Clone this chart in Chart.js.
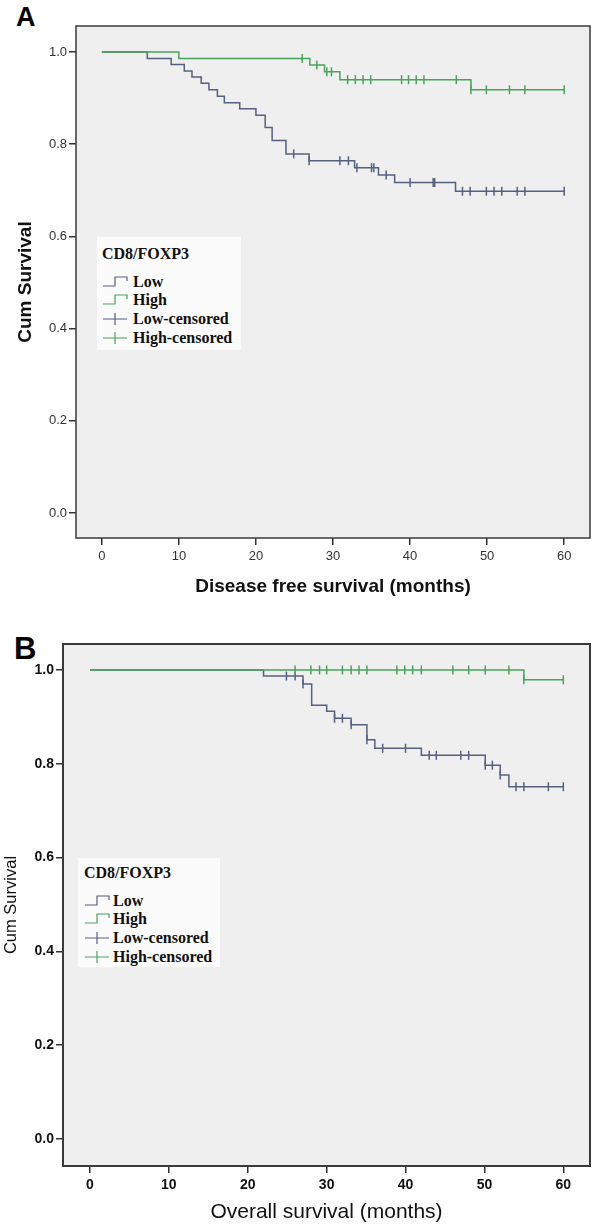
<!DOCTYPE html>
<html>
<head>
<meta charset="utf-8">
<title>CD8/FOXP3 survival</title>
<script src="https://cdn.jsdelivr.net/npm/chart.js@4.4.1/dist/chart.umd.min.js"></script>
<style>
    body { margin: 0; background: #fff; width: 596px; height: 1225px; position: relative; overflow: hidden;
           font-family: 'Liberation Sans', Arial, sans-serif; }
    .panel { position: absolute; left: 0; width: 596px; }
    #panelA { top: 0; height: 600px; }
    #panelB { top: 600px; height: 625px; }
    .letter { position: absolute; font-weight: bold; line-height: 1; color: #000; }
    .legend { position: absolute; background: #fbfbfb; color: #111;
              font-family: 'Liberation Serif', 'Times New Roman', serif; font-weight: bold; font-size: 16px; }
    .legend .row { position: absolute; height: 18px; line-height: 18px; white-space: nowrap; }
    .legend svg { position: absolute; }
</style>
</head>
<body>
<div class="letter" style="left:16px; top:4px; font-size:27px;">A</div>
<div class="letter" style="left:14px; top:633px; font-size:31px;">B</div>

<div class="panel" id="panelA"><canvas id="chartA"></canvas></div>
<div class="panel" id="panelB"><canvas id="chartB"></canvas></div>

<div class="legend" id="legendA" style="left:97px; top:237px; width:144px; height:113px;"></div>
<div class="legend" id="legendB" style="left:78px; top:858px; width:142px; height:109px;"></div>

<script>
// Axes
var xTicks = [0, 10, 20, 30, 40, 50, 60];
var yTicks = [0.0, 0.2, 0.4, 0.6, 0.8, 1.0];
var legendTitle = 'CD8/FOXP3';
var legendLabels = ['Low', 'High', 'Low-censored', 'High-censored'];

// Panel A - disease free survival (event times / survival after the step)
var lowTimesA = [0, 5.9, 9.0, 10.7, 11.7, 12.9, 13.9, 15.0, 15.9, 17.9, 20.0, 21.2, 22.1, 23.9, 26.9, 32.8, 35.9, 38.0, 45.9, 60];
var lowSurvA = [1, 0.986, 0.973, 0.959, 0.946, 0.932, 0.918, 0.904, 0.890, 0.877, 0.863, 0.836, 0.808, 0.779, 0.764, 0.749, 0.733, 0.717, 0.698, 0.698];
var lowCensorA = [24.9, 26.9, 30.9, 32.0, 33.1, 35.0, 35.3, 36.9, 40.0, 43.0, 43.2, 46.8, 47.8, 49.9, 50.9, 51.9, 53.9, 54.9, 60];
var highTimesA = [0, 10.0, 27.0, 28.9, 30.9, 47.9, 60];
var highSurvA = [1, 0.986, 0.972, 0.957, 0.940, 0.918, 0.918];
var highCensorA = [26.0, 27.9, 29.2, 29.8, 31.9, 32.9, 33.9, 34.9, 38.9, 39.8, 40.8, 41.8, 46.0, 47.9, 49.9, 52.9, 54.9, 60];

// Panel B - overall survival
var lowTimesB = [0, 22.0, 27.0, 28.1, 30.0, 31.0, 33.1, 35.1, 36.1, 42.0, 50.1, 52.0, 53.1, 60];
var lowSurvB = [1, 0.987, 0.970, 0.925, 0.912, 0.897, 0.883, 0.851, 0.833, 0.818, 0.797, 0.776, 0.751, 0.751];
var lowCensorB = [24.9, 26.0, 27.0, 31.0, 32.0, 33.1, 35.1, 37.1, 40.0, 43.0, 43.9, 47.0, 48.0, 50.1, 51.0, 52.0, 54.0, 55.0, 58.1, 60];
var highTimesB = [0, 55.0, 60];
var highSurvB = [1, 0.979, 0.979];
var highCensorB = [26.0, 28.0, 29.1, 30.0, 32.0, 33.1, 34.1, 35.1, 38.9, 39.9, 40.9, 42.0, 46.0, 48.0, 50.1, 53.1, 55.0, 60];

var lowColor = '#55617f';
var highColor = '#4aa35c';

// valeur de survie a un temps donne (fonction en escalier)
function survAt(times, surv, t) {
    var v = surv[0];
    for (var i = 0; i < times.length; i++) {
        if (times[i] <= t) v = surv[i];
    }
    return v;
}

function curve(times, surv) {
    return times.map(function (t, i) { return { x: t, y: surv[i] }; });
}

function censored(times, surv, cens) {
    return cens.map(function (t) { return { x: t, y: survAt(times, surv, t) }; });
}

// fond gris + cadre autour de la zone du graphique
var framePlugin = {
    id: 'frame',
    beforeDraw: function (chart) {
        var a = chart.chartArea, ctx = chart.ctx;
        ctx.save();
        ctx.fillStyle = '#efefef';
        ctx.fillRect(a.left, a.top, a.right - a.left, a.bottom - a.top);
        ctx.restore();
    },
    afterDatasetsDraw: function (chart, args, opts) {
        var a = chart.chartArea, ctx = chart.ctx;
        ctx.save();
        ctx.strokeStyle = '#3a3a3a';
        ctx.lineWidth = opts.width || 1.5;
        ctx.strokeRect(a.left, a.top, a.right - a.left, a.bottom - a.top);
        ctx.restore();
    }
};

function lineSet(data, color) {
    return { type: 'scatter', data: data, showLine: true, stepped: true, borderColor: color,
             borderWidth: 1.5, pointRadius: 0, fill: false };
}

function censorSet(data, color) {
    return { type: 'scatter', data: data, showLine: false, pointStyle: 'line', rotation: 90,
             pointRadius: 4.5, borderColor: color, backgroundColor: color, borderWidth: 1.5 };
}

function makeChart(id, p) {
    var ctx = document.getElementById(id);
    return new Chart(ctx, {
        type: 'scatter',
        data: {
            datasets: [
                lineSet(curve(p.highTimes, p.highSurv), highColor),
                censorSet(censored(p.highTimes, p.highSurv, p.highCensor), highColor),
                lineSet(curve(p.lowTimes, p.lowSurv), lowColor),
                censorSet(censored(p.lowTimes, p.lowSurv, p.lowCensor), lowColor)
            ]
        },
        options: {
            responsive: true,
            maintainAspectRatio: false,
            animation: false,
            events: [],
            layout: { padding: p.padding },
            plugins: { legend: { display: false }, tooltip: { enabled: false }, frame: { width: p.frameWidth } },
            scales: {
                x: {
                    type: 'linear', min: p.xMin, max: p.xMax,
                    afterBuildTicks: function (s) { s.ticks = xTicks.map(function (v) { return { value: v }; }); },
                    afterFit: function (s) { s.height = p.xHeight; },
                    grid: { drawOnChartArea: false, drawTicks: true, tickLength: 7, color: '#333', lineWidth: 1.5 },
                    border: { display: false },
                    ticks: { padding: p.xTickPad, color: p.tickColor, font: p.tickFont,
                             callback: function (v) { return String(v); } },
                    title: { display: true, text: p.xTitle, color: '#111', font: p.xTitleFont,
                             padding: { top: 0, bottom: p.xTitlePad } }
                },
                y: {
                    type: 'linear', min: p.yMin, max: p.yMax,
                    afterBuildTicks: function (s) { s.ticks = yTicks.map(function (v) { return { value: v }; }); },
                    afterFit: function (s) { s.width = p.yWidth; },
                    grid: { drawOnChartArea: false, drawTicks: true, tickLength: 7, color: '#333', lineWidth: 1.5 },
                    border: { display: false },
                    ticks: { padding: 2, color: p.tickColor, font: p.tickFont,
                             callback: function (v) { return v.toFixed(1); } },
                    title: { display: true, text: 'Cum Survival', color: '#111', font: p.yTitleFont,
                             padding: { top: p.yTitlePad, bottom: 0 } }
                }
            }
        },
        plugins: [framePlugin]
    });
}

// legende en HTML (symboles en SVG)
function buildLegend(id, colors, offsets, symX, textX) {
    var box = document.getElementById(id);
    var html = '<div class="row" style="left:' + (symX - 1) + 'px; top:' + (offsets[0] - 9) + 'px;">' + legendTitle + '</div>';
    for (var i = 0; i < legendLabels.length; i++) {
        var top = offsets[i + 1] - 9;
        var c = colors[i];
        var path = i < 2 ? 'M0,13 H12 V4 H24 V8' : 'M0,9 H24 M12,3 V15';
        html += '<svg width="26" height="18" style="left:' + symX + 'px; top:' + top + 'px;">' +
                '<path d="' + path + '" fill="none" stroke="' + c + '" stroke-width="1.2"/></svg>';
        html += '<div class="row" style="left:' + textX + 'px; top:' + top + 'px;">' + legendLabels[i] + '</div>';
    }
    box.innerHTML = html;
}

function initializePage() {
    makeChart('chartA', {
        lowTimes: lowTimesA, lowSurv: lowSurvA, lowCensor: lowCensorA,
        highTimes: highTimesA, highSurv: highSurvA, highCensor: highCensorA,
        padding: { top: 26, right: 3, left: 0, bottom: 0 },
        xMin: -3.35, xMax: 63.35, yMin: -0.0542, yMax: 1.0564,
        xHeight: 62, yWidth: 76, frameWidth: 1.5,
        tickColor: '#333', tickFont: { family: 'Liberation Sans', size: 13 },
        xTickPad: 4,
        xTitle: 'Disease free survival (months)',
        xTitleFont: { family: 'Liberation Sans', size: 19, weight: 'bold' }, xTitlePad: 2,
        yTitleFont: { family: 'Liberation Sans', size: 19, weight: 'bold' }, yTitlePad: 14
    });
    makeChart('chartB', {
        lowTimes: lowTimesB, lowSurv: lowSurvB, lowCensor: lowCensorB,
        highTimes: highTimesB, highSurv: highSurvB, highCensor: highCensorB,
        padding: { top: 44, right: 6, left: 0, bottom: 0 },
        xMin: -3.42, xMax: 63.38, yMin: -0.0576, yMax: 1.0554,
        xHeight: 59, yWidth: 63, frameWidth: 2,
        tickColor: '#111', tickFont: { family: 'Liberation Sans', size: 14, weight: 'bold' },
        xTickPad: 4,
        xTitle: 'Overall survival (months)',
        xTitleFont: { family: 'Liberation Sans', size: 21 }, xTitlePad: 0,
        yTitleFont: { family: 'Liberation Sans', size: 16.5 }, yTitlePad: 2
    });
    buildLegend('legendA', [lowColor, highColor, lowColor, highColor], [17, 45, 63, 82, 101], 6, 36);
    buildLegend('legendB', [lowColor, highColor, lowColor, highColor], [15, 43, 61, 80, 99], 7, 35);
}

initializePage();
</script>
</body>
</html>
